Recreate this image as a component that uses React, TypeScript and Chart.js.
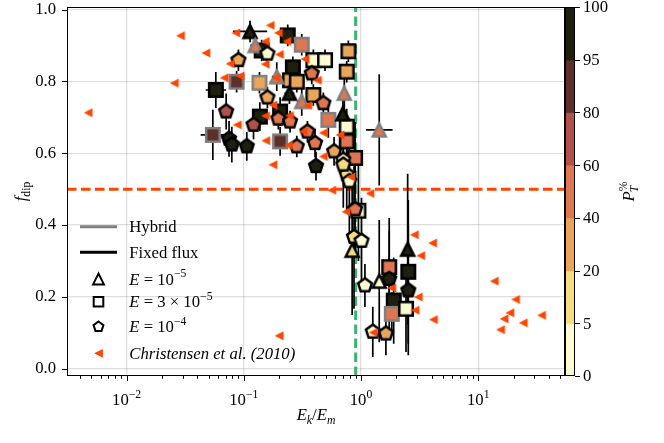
import React, { useEffect, useRef } from "react";
import { Chart, registerables } from "chart.js";
Chart.register(...registerables);

// ---------------- data ----------------
const P_BOUNDS = [0, 5, 20, 40, 60, 80, 95, 100];
const P_COLORS = ["#fefbd0", "#f6dc80", "#e9a65a", "#de7652", "#b2504c", "#5e2f29", "#1f1f0e"];
const CBAR_TICKS = [0, 5, 20, 40, 60, 80, 95, 100];

const X_MAJOR = [0.01, 0.1, 1, 10];
const X_MAJOR_EXP = ["−2", "−1", "0", "1"];
const Y_TICKS = [0, 0.2, 0.4, 0.6, 0.8, 1.0];
const X_MIN = 0.0031;
const X_MAX = 55;
const Y_MIN = -0.02;
const Y_MAX = 1.007;
const VLINE_X = 0.9;
const HLINE_Y = 0.5;

// E = 1e-5 (triangles)
const triX = [0.113, 0.125, 0.191, 0.245, 0.312, 0.72, 0.70, 1.43, 0.84, 1.43, 2.5];
const triY = [0.939, 0.900, 0.813, 0.767, 0.744, 0.767, 0.71, 0.665, 0.33, 0.244, 0.333];
const triP = [98, 50, 50, 98, 50, 50, 98, 50, 10, 2, 98];
const triHybrid = [0, 1, 1, 0, 1, 1, 0, 1, 0, 0, 0];
const triYErr = [0.03, 0.03, 0.04, 0.03, 0.04, 0.05, 0.06, 0.155, 0.18, 0.17, 0.21];
const triXErr = [1.4, 1.1, 1.1, 1.1, 1.1, 1.05, 1.05, 1.3, 1.05, 1.05, 1.05];

// E = 3e-5 (squares)
const sqX = [0.0577, 0.0868, 0.136, 0.0544, 0.204, 0.142, 0.237, 0.312, 0.392, 0.493, 0.262, 0.248, 0.392, 0.283, 0.78, 0.755, 0.526, 0.755, 0.755, 0.89, 1.74, 2.53, 1.9, 1.83, 2.42, 0.95, 0.137, 0.204];
const sqY = [0.776, 0.799, 0.796, 0.651, 0.633, 0.886, 0.928, 0.902, 0.859, 0.859, 0.839, 0.803, 0.762, 0.799, 0.884, 0.827, 0.693, 0.674, 0.633, 0.587, 0.283, 0.27, 0.19, 0.153, 0.167, 0.44, 0.702, 0.716];
const sqP = [98, 88, 30, 88, 88, 98, 98, 50, 2, 2, 98, 30, 30, 30, 30, 30, 50, 2, 50, 50, 50, 98, 98, 50, 2, 2, 98, 98];
const sqHybrid = [0, 1, 1, 1, 1, 0, 0, 1, 0, 0, 0, 0, 0, 0, 0, 0, 1, 0, 0, 0, 0, 0, 0, 1, 0, 0, 0, 0];
const sqYErr = [0.05, 0.03, 0.03, 0.07, 0.04, 0.03, 0.03, 0.03, 0.03, 0.03, 0.03, 0.03, 0.03, 0.03, 0.03, 0.03, 0.05, 0.05, 0.06, 0.10, 0.10, 0.2, 0.12, 0.06, 0.12, 0.14, 0.04, 0.04];
const sqXErr = [1.22, 1.1, 1.1, 1.27, 1.1, 1.1, 1.1, 1.1, 1.05, 1.05, 1.1, 1.1, 1.1, 1.1, 1.05, 1.05, 1.1, 1.05, 1.05, 1.05, 1.08, 1.08, 1.08, 1.08, 1.05, 1.05, 1.1, 1.1];

// E = 1e-4 (pentagons)
const penX = [0.0899, 0.159, 0.0707, 0.159, 0.121, 0.0748, 0.079, 0.106, 0.197, 0.248, 0.349, 0.283, 0.405, 0.477, 0.38, 0.413, 0.589, 0.706, 0.755, 0.706, 0.795, 0.89, 0.871, 1.01, 1.08, 1.74, 2.53, 1.26, 1.63];
const penY = [0.859, 0.877, 0.716, 0.755, 0.679, 0.64, 0.624, 0.619, 0.696, 0.688, 0.66, 0.619, 0.628, 0.739, 0.822, 0.564, 0.605, 0.582, 0.541, 0.568, 0.522, 0.444, 0.367, 0.356, 0.232, 0.25, 0.218, 0.103, 0.098];
const penP = [30, 2, 70, 30, 70, 98, 98, 98, 50, 50, 50, 50, 50, 50, 50, 98, 30, 2, 10, 10, 2, 50, 10, 2, 2, 98, 98, 2, 30];
const penYErr = [0.03, 0.03, 0.05, 0.03, 0.04, 0.05, 0.05, 0.04, 0.03, 0.03, 0.03, 0.03, 0.04, 0.03, 0.03, 0.04, 0.04, 0.05, 0.10, 0.12, 0.16, 0.12, 0.2, 0.12, 0.06, 0.17, 0.18, 0.07, 0.06];
const penXErr = [1.1, 1.1, 1.1, 1.1, 1.1, 1.1, 1.1, 1.1, 1.08, 1.08, 1.08, 1.08, 1.08, 1.08, 1.08, 1.08, 1.08, 1.05, 1.05, 1.05, 1.05, 1.05, 1.05, 1.05, 1.05, 1.05, 1.05, 1.05, 1.05];

// Christensen et al. (2010)
const chrX = [0.0047, 0.0288, 0.0255, 0.0474, 0.0855, 0.168, 0.197, 0.152, 0.201, 0.233, 0.0764, 0.152, 0.068, 0.093, 0.188, 0.333, 0.424, 0.177, 0.351, 0.153, 0.245, 0.088, 0.322, 0.477, 0.662, 0.154, 0.24, 0.477, 0.177, 0.82, 0.563, 1.19, 0.745, 2.85, 4.08, 3.23, 1.83, 3.08, 2.89, 4.14, 1.27, 13.7, 20.8, 18.6, 16.6, 24.2, 15.5, 34.7, 0.2];
const chrY = [0.713, 0.927, 0.795, 0.879, 0.935, 0.956, 0.935, 0.911, 0.875, 0.911, 0.849, 0.848, 0.81, 0.815, 0.81, 0.862, 0.803, 0.734, 0.733, 0.704, 0.705, 0.679, 0.66, 0.657, 0.651, 0.635, 0.622, 0.591, 0.568, 0.534, 0.497, 0.488, 0.437, 0.373, 0.35, 0.315, 0.225, 0.2, 0.163, 0.137, 0.101, 0.244, 0.193, 0.156, 0.139, 0.128, 0.109, 0.149, 0.092];

// ---------------- styling helpers ----------------
const FONT = '"Liberation Serif", "Times New Roman", serif';
const FS = 16.7;
const ORANGE = "#ff4500";
const GREEN = "#3cb371";
const GRID = "rgba(0,0,0,0.13)";
const EDGE_FIXED = "#000000";
const EDGE_HYBRID = "#808080";

function colorFor(p: number): string {
  for (let i = 0; i < P_COLORS.length; i++) if (p < P_BOUNDS[i + 1]) return P_COLORS[i];
  return P_COLORS[P_COLORS.length - 1];
}

function tracePath(g: CanvasRenderingContext2D, shape: string, h: number) {
  if (shape === "square") {
    g.rect(-h, -h, 2 * h, 2 * h);
  } else if (shape === "triangle") {
    g.moveTo(0, -h);
    g.lineTo(-h, h);
    g.lineTo(h, h);
    g.closePath();
  } else if (shape === "pentagon") {
    for (let k = 0; k < 5; k++) {
      const a = -Math.PI / 2 + (k * 2 * Math.PI) / 5;
      const px = h * Math.cos(a);
      const py = h * Math.sin(a);
      if (k === 0) g.moveTo(px, py);
      else g.lineTo(px, py);
    }
    g.closePath();
  } else if (shape === "left") {
    g.moveTo(-h, 0);
    g.lineTo(h, -h);
    g.lineTo(h, h);
    g.closePath();
  }
}

function drawMarker(g: CanvasRenderingContext2D, shape: string, cx: number, cy: number, h: number, fill: string, edge: string, lw: number) {
  g.save();
  g.translate(cx, cy);
  g.beginPath();
  tracePath(g, shape, h);
  g.fillStyle = fill;
  g.fill();
  if (lw > 0) {
    g.lineWidth = lw;
    g.strokeStyle = edge;
    g.lineJoin = "miter";
    g.stroke();
  }
  g.restore();
}

const markerCache: Record<string, HTMLCanvasElement> = {};
function markerCanvas(shape: string, fill: string, edge: string, lw: number, h: number): HTMLCanvasElement {
  const key = [shape, fill, edge, lw, h].join("|");
  if (markerCache[key]) return markerCache[key];
  const s0 = Math.ceil(2 * h + 2 * lw + 6);
  const s = s0 + (s0 % 2);
  const c = document.createElement("canvas");
  c.width = s;
  c.height = s;
  const g = c.getContext("2d")!;
  drawMarker(g, shape, s / 2, s / 2, h, fill, edge, lw);
  markerCache[key] = c;
  return c;
}

type Part = { t: string; s?: number; i?: boolean; dy?: number };
function fontOf(p: Part, base: number) {
  return `${p.i ? "italic " : ""}${(p.s ?? 1) * base}px ${FONT}`;
}
function measureParts(ctx: CanvasRenderingContext2D, parts: Part[], base: number) {
  let w = 0;
  for (const p of parts) {
    ctx.font = fontOf(p, base);
    w += ctx.measureText(p.t).width;
  }
  return w;
}
function drawParts(ctx: CanvasRenderingContext2D, parts: Part[], x: number, y: number, base: number, align: "left" | "center") {
  let cx = align === "center" ? x - measureParts(ctx, parts, base) / 2 : x;
  ctx.textBaseline = "alphabetic";
  ctx.textAlign = "left";
  for (const p of parts) {
    ctx.font = fontOf(p, base);
    ctx.fillText(p.t, cx, y + (p.dy ?? 0) * base);
    cx += ctx.measureText(p.t).width;
  }
}

const groups = [
  { shape: "square", h: 6.75, x: sqX, y: sqY, p: sqP, hy: sqHybrid, ye: sqYErr, xe: sqXErr },
  { shape: "triangle", h: 6.5, x: triX, y: triY, p: triP, hy: triHybrid, ye: triYErr, xe: triXErr },
  { shape: "pentagon", h: 7.2, x: penX, y: penY, p: penP, hy: penX.map(() => 0), ye: penYErr, xe: penXErr },
];

const decorPlugin = {
  id: "decor",
  beforeDatasetsDraw(chart: any) {
    const { ctx, chartArea: a, scales } = chart;
    const xs = scales.x;
    const ys = scales.y;
    ctx.save();
    ctx.beginPath();
    ctx.rect(a.left, a.top, a.right - a.left, a.bottom - a.top);
    ctx.clip();
    ctx.lineWidth = 3;
    ctx.setLineDash([9.5, 4.5]);
    ctx.strokeStyle = GREEN;
    const vx = xs.getPixelForValue(VLINE_X);
    ctx.beginPath();
    ctx.moveTo(vx, a.bottom);
    ctx.lineTo(vx, a.top);
    ctx.stroke();
    ctx.strokeStyle = ORANGE;
    const hy = ys.getPixelForValue(HLINE_Y);
    ctx.beginPath();
    ctx.moveTo(a.left, hy);
    ctx.lineTo(a.right, hy);
    ctx.stroke();
    ctx.setLineDash([]);
    ctx.strokeStyle = "#000";
    ctx.lineWidth = 1.7;
    for (const gr of groups) {
      for (let i = 0; i < gr.x.length; i++) {
        const px = xs.getPixelForValue(gr.x[i]);
        const py = ys.getPixelForValue(gr.y[i]);
        ctx.beginPath();
        ctx.moveTo(px, ys.getPixelForValue(gr.y[i] - gr.ye[i]));
        ctx.lineTo(px, ys.getPixelForValue(gr.y[i] + gr.ye[i]));
        ctx.moveTo(xs.getPixelForValue(gr.x[i] / gr.xe[i]), py);
        ctx.lineTo(xs.getPixelForValue(gr.x[i] * gr.xe[i]), py);
        ctx.stroke();
      }
    }
    ctx.restore();
  },
  afterDraw(chart: any) {
    const { ctx, chartArea: a, scales } = chart;
    const xs = scales.x;
    const ys = scales.y;
    ctx.save();
    ctx.fillStyle = "#000";
    ctx.strokeStyle = "#000";
    ctx.lineWidth = 1;
    ctx.strokeRect(a.left + 0.5, a.top + 0.5, a.right - a.left - 1, a.bottom - a.top - 1);
    ctx.beginPath();
    for (let e = -3; e <= 1; e++) {
      for (let k = 1; k <= 9; k++) {
        const v = k * Math.pow(10, e);
        if (v < X_MIN || v > X_MAX) continue;
        const px = Math.round(xs.getPixelForValue(v)) + 0.5;
        const len = k === 1 ? 4.9 : 2.8;
        ctx.moveTo(px, a.bottom);
        ctx.lineTo(px, a.bottom + len);
      }
    }
    for (const v of Y_TICKS) {
      const py = Math.round(ys.getPixelForValue(v)) + 0.5;
      ctx.moveTo(a.left, py);
      ctx.lineTo(a.left - 4.9, py);
    }
    ctx.stroke();
    X_MAJOR.forEach((v, i) => {
      const px = xs.getPixelForValue(v);
      drawParts(ctx, [{ t: "10" }, { t: X_MAJOR_EXP[i], s: 0.7, dy: -0.42 }], px, 405, FS, "center");
    });
    drawParts(ctx, [{ t: "E", i: true }, { t: "k", i: true, s: 0.7, dy: 0.22 }, { t: "/" }, { t: "E", i: true }, { t: "m", i: true, s: 0.7, dy: 0.22 }], (a.left + a.right) / 2, 420, FS, "center");
    ctx.save();
    ctx.translate(26, (a.top + a.bottom) / 2);
    ctx.rotate(-Math.PI / 2);
    drawParts(ctx, [{ t: "f", i: true }, { t: "dip", s: 0.7, dy: 0.22 }], 0, 0, FS, "center");
    ctx.restore();

    // colorbar
    const cbL = a.right;
    const cbR = a.right + 10;
    const n = P_COLORS.length;
    const segH = (a.bottom - a.top) / n;
    for (let i = 0; i < n; i++) {
      ctx.fillStyle = P_COLORS[i];
      ctx.fillRect(cbL, a.bottom - (i + 1) * segH, cbR - cbL, segH + 0.5);
    }
    ctx.strokeStyle = "#000";
    ctx.lineWidth = 1;
    ctx.strokeRect(cbL + 0.5, a.top + 0.5, cbR - cbL - 1, a.bottom - a.top - 1);
    ctx.fillStyle = "#000";
    ctx.beginPath();
    CBAR_TICKS.forEach((t, i) => {
      const py = Math.round(a.bottom - i * segH) + 0.5;
      ctx.moveTo(cbR, py);
      ctx.lineTo(cbR + 4.9, py);
    });
    ctx.stroke();
    ctx.font = `${FS}px ${FONT}`;
    ctx.textAlign = "left";
    ctx.textBaseline = "middle";
    CBAR_TICKS.forEach((t, i) => {
      ctx.fillText(String(t), cbR + 8, a.bottom - i * segH + 1);
    });
    ctx.save();
    ctx.translate(634, (a.top + a.bottom) / 2);
    ctx.rotate(-Math.PI / 2);
    {
      const parts: Part[] = [{ t: "P", i: true }, { t: "%", s: 0.7, dy: -0.42 }];
      const wAll = measureParts(ctx, parts, FS);
      drawParts(ctx, parts, 0, 0, FS, "center");
      ctx.font = `italic ${FS}px ${FONT}`;
      const wP = ctx.measureText("P").width;
      ctx.font = `italic ${FS * 0.7}px ${FONT}`;
      ctx.textAlign = "left";
      ctx.textBaseline = "alphabetic";
      ctx.fillText("T", -wAll / 2 + wP - 1, 0.25 * FS);
    }
    ctx.restore();

    // legend
    const lx0 = 80;
    const lx1 = 117;
    const mx = 98.5;
    const tx = 129.3;
    const rows = [226.7, 252.3, 279, 301.7, 326.7, 353.3];
    const base = (cy: number) => cy + 0.33 * FS;
    ctx.lineWidth = 3;
    ctx.strokeStyle = EDGE_HYBRID;
    ctx.beginPath();
    ctx.moveTo(lx0, rows[0]);
    ctx.lineTo(lx1, rows[0]);
    ctx.stroke();
    ctx.strokeStyle = EDGE_FIXED;
    ctx.beginPath();
    ctx.moveTo(lx0, rows[1]);
    ctx.lineTo(lx1, rows[1]);
    ctx.stroke();
    drawMarker(ctx, "triangle", mx, rows[2], 5.4, "#ffffff", "#000", 2);
    drawMarker(ctx, "square", mx, rows[3], 4.8, "#ffffff", "#000", 2);
    drawMarker(ctx, "pentagon", mx, rows[4], 5.2, "#ffffff", "#000", 2);
    drawMarker(ctx, "left", mx, rows[5], 4.4, ORANGE, ORANGE, 0);
    ctx.fillStyle = "#000";
    drawParts(ctx, [{ t: "Hybrid" }], tx, base(rows[0]), FS, "left");
    drawParts(ctx, [{ t: "Fixed flux" }], tx, base(rows[1]), FS, "left");
    drawParts(ctx, [{ t: "E", i: true }, { t: " = 10" }, { t: "−5", s: 0.7, dy: -0.42 }], tx, base(rows[2]), FS, "left");
    drawParts(ctx, [{ t: "E", i: true }, { t: " = 3 × 10" }, { t: "−5", s: 0.7, dy: -0.42 }], tx, base(rows[3]), FS, "left");
    drawParts(ctx, [{ t: "E", i: true }, { t: " = 10" }, { t: "−4", s: 0.7, dy: -0.42 }], tx, base(rows[4]), FS, "left");
    drawParts(ctx, [{ t: "Christensen et al. (2010)", i: true }], tx, base(rows[5]), FS, "left");
    ctx.restore();
  },
};

function simDataset(gr: any, order: number) {
  const styles = gr.x.map((_: number, i: number) =>
    markerCanvas(gr.shape, colorFor(gr.p[i]), gr.hy[i] ? EDGE_HYBRID : EDGE_FIXED, 2.5, gr.h)
  );
  return {
    data: gr.x.map((v: number, i: number) => ({ x: v, y: gr.y[i] })),
    pointStyle: (c: any) => styles[c.dataIndex],
    pointRadius: 6,
    order,
  };
}

export default function App() {
  const ref = useRef<HTMLCanvasElement | null>(null);
  useEffect(() => {
    document.body.style.margin = "0";
    const canvas = ref.current!;
    const chrStyle = markerCanvas("left", ORANGE, ORANGE, 0, 4.4);
    const chart = new Chart(canvas, {
      type: "scatter",
      data: {
        datasets: [
          {
            data: chrX.map((v, i) => ({ x: v, y: chrY[i] })),
            pointStyle: chrStyle as any,
            pointRadius: 5,
            order: 0,
          } as any,
          simDataset(groups[2], 1),
          simDataset(groups[1], 2),
          simDataset(groups[0], 3),
        ],
      },
      options: {
        responsive: false,
        animation: false,
        devicePixelRatio: 1,
        events: [],
        layout: { padding: { left: 0, top: 5, right: 99, bottom: 0 } },
        plugins: { legend: { display: false }, tooltip: { enabled: false } },
        scales: {
          x: {
            type: "logarithmic",
            min: X_MIN,
            max: X_MAX,
            afterBuildTicks: (s: any) => {
              s.ticks = X_MAJOR.map((v) => ({ value: v }));
            },
            afterFit: (s: any) => {
              s.height = 67;
              s.paddingLeft = 0;
              s.paddingRight = 0;
            },
            ticks: { display: false },
            grid: { color: GRID, lineWidth: 1.3, drawTicks: false },
            border: { display: false },
          },
          y: {
            type: "linear",
            min: Y_MIN,
            max: Y_MAX,
            afterBuildTicks: (s: any) => {
              s.ticks = Y_TICKS.map((v) => ({ value: v }));
            },
            afterFit: (s: any) => {
              s.width = 67;
              s.paddingTop = 0;
              s.paddingBottom = 0;
            },
            ticks: {
              color: "#000",
              padding: 11,
              font: { family: FONT, size: FS },
              callback: (v: any) => Number(v).toFixed(1),
            },
            grid: { color: GRID, lineWidth: 1.3, drawTicks: false },
            border: { display: false },
          },
        },
      } as any,
      plugins: [decorPlugin],
    });
    return () => chart.destroy();
  }, []);
  return (
    <div style={{ width: 664, height: 443 }}>
      <canvas ref={ref} width={664} height={443} style={{ display: "block" }} />
    </div>
  );
}
